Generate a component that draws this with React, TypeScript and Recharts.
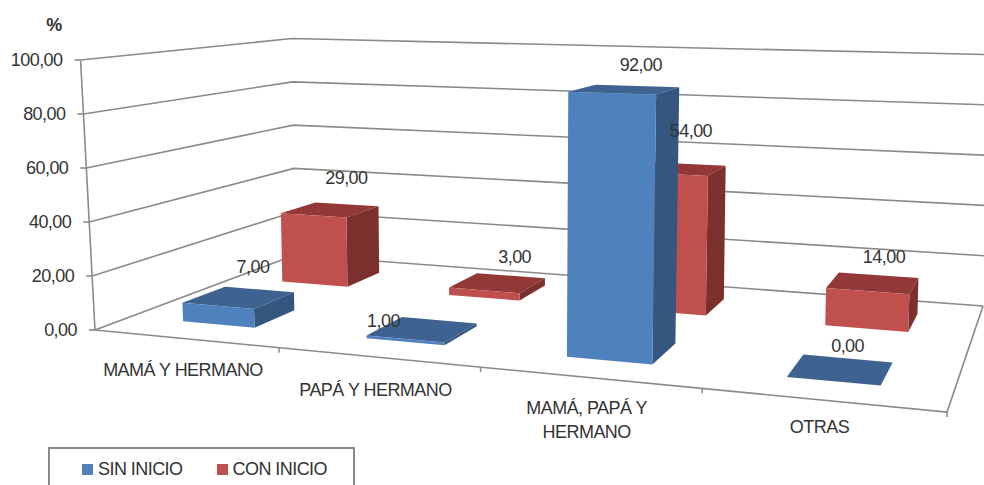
import { BarChart, Bar, XAxis, YAxis, CartesianGrid, Legend, LabelList } from 'recharts';

const categories = ['MAMÁ Y HERMANO', 'PAPÁ Y HERMANO', 'MAMÁ, PAPÁ Y\nHERMANO', 'OTRAS'];
const sinInicio = [7, 1, 92, 0];
const conInicio = [29, 3, 54, 14];
const yTicks = [0, 20, 40, 60, 80, 100];

const data = categories.map((name, i) => ({ name, sin: sinInicio[i], con: conInicio[i] }));

// flat plot that recharts lays out, everything is then pushed through project()
const PLOT = { left: 100, top: 60, w: 800, h: 300 };
const BAR = 80;
const FONT = '"Liberation Sans", Arial, sans-serif';
const GREY = '#8a8a8a';
const TEXT = '#333';
const textStyle = { fontSize: 18, letterSpacing: -0.55, fontFamily: FONT, fill: TEXT };

const BLUE = { front: '#4f81bd', top: '#3e6390', side: '#34567f' };
const RED = { front: '#c0504d', top: '#923836', side: '#7b302e' };

// depth slots on the floor, 0 is the front edge
const DEPTH = { sin: [0.15, 0.35], con: [0.65, 0.85] };
const LABEL_NUDGE: Record<string, number[][]> = {
  sin: [[14, -31], [-39, -9], [16, -25], [7, -24]],
  con: [[16, -32], [17, -26], [12, -38], [11, -26]],
};
const X_LABEL_DROP = [37, 39, 36, 33];

// homography of the floor, fitted on its four corners
function project(u: number, v: number, z: number) {
  const w = 1 - 0.1734 * u + 0.2474 * v;
  const fx = (687.8 * u + 273 * v + 95) / w;
  const fy = (10.6 * u - 11.9 * v + 330) / w;
  const lean = (fx - 520) * 0.034 * (1 - 0.6 * v);
  return [fx + lean * (z / 100), fy - (270 / w) * (z / 100)];
}

const toU = (x: number) => (x - PLOT.left) / PLOT.w;
const toZ = (y: number) => ((PLOT.top + PLOT.h - y) / PLOT.h) * 100;
const pts = (list: number[][]) => list.map((p) => p.join(',')).join(' ');
const fmt = (v: number) => Number(v).toFixed(2).replace('.', ',');

function Bar3D(props: any, depth: number[], colors: typeof BLUE) {
  const { x, y, width } = props;
  const u0 = toU(x);
  const u1 = toU(x + width);
  const z = toZ(y);
  const [v0, v1] = depth;
  return (
    <g>
      <polygon points={pts([project(u0, v0, z), project(u1, v0, z), project(u1, v1, z), project(u0, v1, z)])} fill={colors.top} />
      {z > 0 && (
        <>
          <polygon points={pts([project(u1, v0, 0), project(u1, v1, 0), project(u1, v1, z), project(u1, v0, z)])} fill={colors.side} />
          <polygon points={pts([project(u0, v0, 0), project(u1, v0, 0), project(u1, v0, z), project(u0, v0, z)])} fill={colors.front} />
        </>
      )}
    </g>
  );
}

function barLabel(props: any, key: 'sin' | 'con') {
  const box = props.viewBox ?? props;
  const u = toU(box.x + box.width / 2);
  const v = (DEPTH[key][0] + DEPTH[key][1]) / 2;
  const p = project(u, v, toZ(box.y));
  const [dx, dy] = LABEL_NUDGE[key][props.index];
  return (
    <text x={p[0] + dx} y={p[1] + dy} dy="0.35em" textAnchor="middle" style={textStyle}>
      {fmt(props.value)}
    </text>
  );
}

function GridLine(props: any) {
  const z = toZ(props.y1);
  const a = project(0, 0, z);
  const line = { stroke: GREY, strokeWidth: 1.6, fill: 'none' };
  return (
    <g key={props.key}>
      <polyline points={pts([a, project(0, 1, z), project(1, 1, z)])} {...line} />
      <line x1={a[0] - 6} y1={a[1]} x2={a[0]} y2={a[1]} {...line} />
      {z === 100 && <polyline points={pts([project(0, 0, 0), a])} {...line} />}
      {z === 0 && <polyline points={pts([a, project(1, 0, 0), project(1, 1, 0)])} {...line} />}
    </g>
  );
}

function YTick(props: any) {
  const p = project(0, 0, toZ(props.y));
  return (
    <text x={p[0] - 18} y={p[1]} dy="0.35em" textAnchor="end" style={textStyle}>
      {fmt(props.payload.value)}
    </text>
  );
}

function XTick(props: any) {
  const u = toU(props.x);
  const band = 1 / categories.length;
  const p = project(u, 0, 0);
  const edge = project(u + band / 2, 0, 0);
  const drop = X_LABEL_DROP[props.index] ?? 37;
  return (
    <g>
      <line x1={edge[0]} y1={edge[1]} x2={edge[0]} y2={edge[1] + 5} stroke={GREY} strokeWidth={1.5} />
      <text textAnchor="middle" style={textStyle}>
        {String(props.payload.value)
          .split('\n')
          .map((line, i) => (
            <tspan key={line} x={p[0] - 2} y={p[1] + drop + i * 24}>
              {line}
            </tspan>
          ))}
      </text>
    </g>
  );
}

function LegendBox({ payload }: any) {
  const items = [...(payload ?? [])].reverse();
  return (
    <div
      style={{
        boxSizing: 'border-box',
        width: 307,
        height: 60,
        border: `2px solid ${GREY}`,
        display: 'flex',
        paddingLeft: 32,
        gap: 34,
        paddingTop: 10,
        fontFamily: FONT,
        fontSize: 18,
        letterSpacing: -0.55,
        color: TEXT,
      }}
    >
      {items.map((item: any) => (
        <span key={item.value} style={{ display: 'flex', alignItems: 'center', height: 20 }}>
          <span style={{ width: 11, height: 11, background: item.color, marginRight: 5 }} />
          {item.value}
        </span>
      ))}
    </div>
  );
}

export default function App() {
  return (
    <div style={{ position: 'absolute', left: 0, top: 0, width: 984, height: 485, overflow: 'hidden', background: '#fff' }}>
      <BarChart
        width={984}
        height={485}
        data={data}
        barSize={BAR}
        barGap={-BAR}
        margin={{ top: PLOT.top, left: PLOT.left - 60, right: 984 - PLOT.left - PLOT.w, bottom: 485 - PLOT.top - PLOT.h - 30 }}
      >
        <CartesianGrid vertical={false} horizontal={GridLine as any} syncWithTicks />
        <XAxis dataKey="name" height={30} interval={0} axisLine={false} tickLine={false} tick={XTick as any} />
        <YAxis
          width={60}
          domain={[0, 100]}
          ticks={yTicks}
          axisLine={false}
          tickLine={false}
          tick={YTick as any}
          label={{
            value: '%',
            content: () => (
              <text x={54} y={31} textAnchor="middle" fontWeight="bold" style={textStyle}>
                %
              </text>
            ),
          }}
        />
        <Legend
          layout="vertical"
          align="center"
          verticalAlign="middle"
          content={LegendBox as any}
          wrapperStyle={{ position: 'absolute', left: 48, top: 447, right: 'auto', bottom: 'auto', width: 307 }}
        />
        <Bar dataKey="con" name="CON INICIO" fill={RED.front} isAnimationActive={false} shape={(p: any) => Bar3D(p, DEPTH.con, RED)}>
          <LabelList dataKey="con" content={(p: any) => barLabel(p, 'con')} />
        </Bar>
        <Bar dataKey="sin" name="SIN INICIO" fill={BLUE.front} isAnimationActive={false} shape={(p: any) => Bar3D(p, DEPTH.sin, BLUE)}>
          <LabelList dataKey="sin" content={(p: any) => barLabel(p, 'sin')} />
        </Bar>
      </BarChart>
    </div>
  );
}
